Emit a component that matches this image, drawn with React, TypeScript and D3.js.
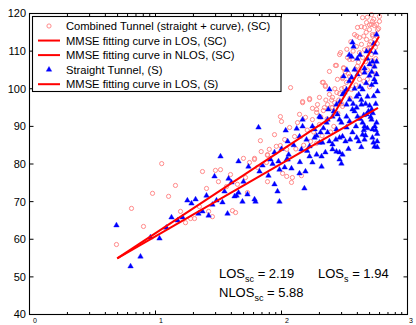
import React from 'react';
import * as d3 from 'd3';

const W = 416;
const H = 325;
const M = { left: 29.5, right: 407.5, top: 13.5, bottom: 314.5 };

const xDomain: [number, number] = [1, 1000];
const yDomain: [number, number] = [40, 120];
const yTicks = [40, 50, 60, 70, 80, 90, 100, 110, 120];
const xMajor = [1, 10, 100, 1000];
const xTickExponents = ['0', '1', '2', '3'];

const legendLabels = [
  'Combined Tunnel (straight + curve), (SC)',
  'MMSE fitting curve in LOS, (SC)',
  'MMSE fitting curve in NLOS, (SC)',
  'Straight Tunnel, (S)',
  'MMSE fitting curve in LOS, (S)',
];

// [distance (m), path loss (dB)]
const combinedSC: [number, number][] = [
  [4.9, 58.6], [6.45, 68.2], [8.03, 63.4], [9.47, 72.2], [11.2, 80.1], [12.7, 71.4], [14.4, 74.3], [15.8, 67.4],
  [17.3, 64.4], [19.0, 65.5], [20.4, 65.5], [22.3, 68.7], [23.6, 78.0], [25.4, 73.5], [26.4, 67.4], [28.3, 66.0],
  [29.9, 78.3], [32.8, 78.5], [31.6, 75.3], [39.4, 77.2], [36.6, 74.0], [44.7, 74.6], [51.8, 76.4], [49.9, 81.5],
  [40.8, 67.6], [43.2, 67.1], [53.7, 72.4], [55.7, 80.4], [61.1, 81.5], [64.5, 79.1], [77.4, 82.3], [76.0, 80.4],
  [77.4, 75.3], [102, 77.5], [110, 76.7], [122, 76.4], [120, 75.1], [144, 76.9],
  [118, 100.3], [98, 92.6], [100, 91.3], [68, 86.2], [147, 96.3], [167, 97.1], [193, 95.8], [215, 101.7],
  [223, 100.9], [240, 98.5], [268, 106.2], [289, 109.1], [311, 105.4], [305, 102.7], [134, 91.0], [127, 87.3],
  [110, 83.9], [176, 91.8], [190, 93.7], [176, 94.8], [215, 94.2], [250, 95.0], [264, 96.3], [91, 84.7],
  [98, 84.9], [77.4, 82.5],
  [527, 117.9], [547, 116.8], [499, 115.7], [456, 116.3], [527, 114.4], [473, 113.1], [273, 106.2], [311, 105.6],
  [394, 111.2], [431, 111.8], [416, 109.6], [482, 110.7], [440, 108.3], [366, 107.8], [408, 107.0], [347, 103.3],
  [328, 101.7], [305, 103.0], [211, 101.7], [223, 100.6], [200, 97.7], [167, 97.4], [147, 96.6], [190, 94.5],
  [219, 95.0], [254, 95.0], [254, 97.7], [305, 95.3], [289, 98.7], [334, 108.3], [473, 117.6], [518, 117.1],
  [518, 119.7], [599, 119.2], [568, 117.1], [294, 109.6],
  [380, 114.4], [416, 113.6], [456, 110.4], [499, 111.8], [547, 113.1], [578, 115.7], [347, 107.8], [387, 105.1],
  [316, 100.3], [360, 99.8], [278, 102.5], [240, 104.6], [232, 95.8], [416, 102.5], [464, 107.2], [518, 109.1],
  [557, 111.0], [599, 117.9], [401, 116.3], [440, 118.9], [139, 93.2], [155, 92.4], [116, 89.7], [88, 87.8],
  [106, 86.5], [80, 83.9], [69, 83.3], [61, 81.2],
  [180, 88.5], [200, 90.5], [230, 92.0], [260, 90.0], [280, 93.5], [300, 96.0], [160, 89.0], [170, 86.0],
  [210, 87.5], [245, 88.5], [190, 85.5], [150, 85.0], [130, 84.0], [225, 97.0], [275, 99.0],
  [420, 104.0], [480, 105.0], [540, 106.0], [560, 104.0], [500, 100.5], [450, 102.0], [390, 101.0], [530, 114.0],
  [560, 108.0], [470, 115.0], [430, 116.5], [510, 112.5],
  [330, 110.5], [355, 112.5], [370, 110.0], [395, 114.0], [450, 114.0], [480, 119.0], [500, 117.0], [540, 118.5],
  [560, 114.5], [575, 112.0], [590, 116.0], [400, 106.0], [440, 104.5], [480, 102.5], [520, 107.5], [500, 111.0],
  [340, 104.0], [360, 102.0], [300, 100.0], [320, 104.5], [265, 100.0], [285, 97.0], [350, 97.5], [250, 97.0],
  [205, 92.5],
];

const straightS: [number, number][] = [
  [4.9, 63.7], [6.34, 52.8], [7.6, 55.4], [9.12, 60.5], [10.76, 60.2], [12.2, 63.1], [13.4, 65.8], [15.0, 65.0],
  [16.4, 65.8], [17.9, 70.3], [19.3, 69.5], [20.8, 70.6], [21.9, 66.8], [23.6, 67.4], [25.4, 71.6], [26.4, 66.3],
  [32.8, 82.0], [45.6, 80.7], [29.4, 76.7], [38.0, 76.1], [40.1, 75.1], [49.9, 75.3], [35.3, 72.7], [45.6, 72.4],
  [44.0, 71.6], [53.7, 71.9], [49.0, 70.0], [34.0, 69.8], [30.5, 70.3], [37.3, 66.8], [28.3, 69.2], [54.7, 79.3],
  [66.9, 78.0], [70.7, 79.6], [78.8, 76.9], [88, 74.6], [93, 72.7], [96.4, 70.0], [61.1, 70.6], [62.2, 70.0],
  [42.4, 71.4], [96.4, 78.5], [106, 79.1], [110, 81.2], [120, 78.8], [139, 77.5], [152, 73.5], [155, 78.0],
  [167, 82.0], [176, 80.4], [208, 79.3], [223, 83.1], [289, 81.2], [299, 80.1], [273, 83.3],
  [65.7, 89.7], [240, 99.8], [311, 103.3], [316, 99.0], [204, 92.4], [232, 91.8], [254, 92.6], [183, 89.2],
  [147, 90.0], [132, 89.4], [108, 88.9], [112, 86.0], [88, 83.1], [114, 82.5], [139, 87.3], [158, 86.5],
  [183, 87.0], [204, 88.4], [232, 88.4], [273, 89.2], [278, 93.2], [299, 91.0], [328, 95.8], [81.8, 81.2],
  [94.7, 80.7], [112, 81.2], [144, 83.9], [167, 84.7], [200, 85.7], [208, 82.0], [254, 83.9], [289, 87.0],
  [322, 86.0], [305, 82.5], [328, 89.7],
  [568, 114.4], [366, 112.3], [373, 111.2], [473, 109.9], [557, 109.6], [568, 107.2], [547, 105.9], [380, 105.1],
  [360, 103.0], [401, 103.8], [456, 105.4], [499, 103.5], [568, 103.8], [557, 101.7], [578, 99.3], [328, 99.8],
  [305, 98.5], [273, 95.8], [347, 97.1], [394, 97.9], [440, 99.8], [482, 97.9], [431, 95.8], [473, 93.2],
  [401, 92.6], [366, 94.5], [328, 92.6], [347, 91.3], [289, 91.8], [456, 90.0], [440, 87.8], [456, 86.5],
  [518, 91.8], [527, 89.2], [527, 87.0], [547, 84.6], [537, 85.7], [366, 88.4], [305, 87.3], [228, 91.0],
  [200, 92.6], [176, 90.0], [147, 91.8], [211, 85.7], [254, 85.2], [289, 83.1], [456, 104.3], [527, 107.2],
  [464, 87.6], [568, 91.0],
  [420, 100.5], [500, 95.5], [540, 98.0], [450, 93.0], [390, 90.0], [520, 101.0], [480, 89.5], [410, 86.0],
  [560, 96.0], [350, 86.5], [430, 84.5], [500, 106.5], [540, 112.0], [400, 108.0], [470, 101.5], [360, 108.5],
  [520, 94.5], [440, 91.0],
  [330, 105.0], [345, 102.0], [380, 100.0], [410, 98.5], [430, 97.0], [465, 96.0], [490, 94.0], [510, 92.5],
  [530, 93.5], [550, 90.0], [575, 88.0], [575, 86.0], [575, 84.5], [560, 89.0], [380, 94.0], [420, 92.0],
  [450, 89.0], [395, 87.0], [340, 84.0], [370, 96.0], [395, 95.0], [520, 104.5], [545, 102.5], [505, 110.0],
  [480, 108.0], [420, 109.0], [345, 109.0], [290, 96.5], [260, 94.0], [235, 94.5], [215, 89.5], [190, 87.5],
  [160, 83.5], [125, 85.0], [100, 84.0], [85, 80.0], [140, 80.5], [190, 82.5], [240, 86.0], [270, 86.5],
];

const fitLosSC: [number, number][] = [[4.97, 54.9], [254, 92.6]];
const fitNlosSC: [number, number][] = [[254, 92.6], [594, 113.9]];
const fitLosS: [number, number][] = [[4.97, 54.9], [583, 94.9]];

const FONT = '"Liberation Sans", Arial, Helvetica, sans-serif';
const CIRCLE = '#ff7f7f';
const BLUE = '#0000ff';
const RED = '#ff0000';

export default function App() {
  const x = d3.scaleLog().domain(xDomain).range([M.left, M.right]);
  const y = d3.scaleLinear().domain(yDomain).range([M.bottom, M.top]);
  const line = d3
    .line<[number, number]>()
    .x((d) => x(d[0]))
    .y((d) => y(d[1]));
  const tri = d3.symbol().type(d3.symbolTriangle).size(13)() as string;

  const minor: number[] = [];
  [1, 10, 100].forEach((dec) => {
    for (let k = 2; k <= 9; k++) minor.push(dec * k);
  });

  const legX = 32.5;
  const legY = 16.5;
  const legW = 248.5;
  const legH = 75;
  const rowY = (i: number) => 26 + i * 14.55;

  return (
    <div style={{ position: 'absolute', left: 0, top: 0 }}>
      <svg width={W} height={H} style={{ display: 'block', background: '#fff' }} fontFamily={FONT}>
        <rect x={0} y={0} width={W} height={H} fill="#fff" />
        <g>
          {combinedSC.map((d, i) => (
            <circle key={'c' + i} cx={x(d[0])} cy={y(d[1])} r={2.1} fill="none" stroke={CIRCLE} strokeWidth={0.9} />
          ))}
        </g>
        <g>
          {straightS.map((d, i) => (
            <path key={'t' + i} d={tri} transform={`translate(${x(d[0])},${y(d[1])})`} fill={BLUE} stroke={BLUE} strokeWidth={0.4} />
          ))}
        </g>
        <path d={line(fitLosSC) as string} fill="none" stroke={RED} strokeWidth={2} />
        <path d={line(fitNlosSC) as string} fill="none" stroke={RED} strokeWidth={2} />
        <path d={line(fitLosS) as string} fill="none" stroke={RED} strokeWidth={2} />

        <rect x={M.left} y={M.top} width={M.right - M.left} height={M.bottom - M.top} fill="none" stroke="#000" strokeWidth={1.1} />
        {yTicks.map((t) => (
          <g key={'y' + t}>
            <line x1={M.left} x2={M.left + 4} y1={y(t)} y2={y(t)} stroke="#000" />
            <line x1={M.right} x2={M.right - 4} y1={y(t)} y2={y(t)} stroke="#000" />
            <text x={M.left - 3.5} y={y(t)} dy="0.36em" textAnchor="end" fontSize={11} fill="#000">
              {t}
            </text>
          </g>
        ))}
        {xMajor.map((t, i) => (
          <g key={'x' + t}>
            <line x1={x(t)} x2={x(t)} y1={M.bottom} y2={M.bottom - 4} stroke="#000" />
            <line x1={x(t)} x2={x(t)} y1={M.top} y2={M.top + 4} stroke="#000" />
            <text x={Math.min(x(t) + 5.5, 411)} y={322.5} textAnchor="middle" fontSize={7} fill="#000">
              {xTickExponents[i]}
            </text>
          </g>
        ))}
        {minor.map((t) => (
          <g key={'m' + t}>
            <line x1={x(t)} x2={x(t)} y1={M.bottom} y2={M.bottom - 2.5} stroke="#000" />
            <line x1={x(t)} x2={x(t)} y1={M.top} y2={M.top + 2.5} stroke="#000" />
          </g>
        ))}

        <rect x={legX} y={legY} width={legW} height={legH} fill="#fff" stroke="#000" strokeWidth={1.1} />
        {legendLabels.map((lab, i) => {
          const cy = rowY(i);
          return (
            <g key={'l' + i}>
              {i === 0 && <circle cx={49} cy={cy} r={2.1} fill="none" stroke={CIRCLE} strokeWidth={0.9} />}
              {i === 3 && <path d={tri} transform={`translate(49,${cy})`} fill={BLUE} stroke={BLUE} strokeWidth={0.4} />}
              {(i === 1 || i === 2 || i === 4) && (
                <line x1={38} x2={60} y1={cy} y2={cy} stroke={RED} strokeWidth={2} />
              )}
              <text x={66} y={cy + 4} fontSize={11.2} fill="#000">
                {lab}
              </text>
            </g>
          );
        })}

        <text x={219} y={278} fontSize={13} fill="#000">
          LOS<tspan dy={4} fontSize={9}>sc</tspan>
          <tspan dy={-4}> = 2.19</tspan>
        </text>
        <text x={318} y={278} fontSize={13} fill="#000">
          LOS<tspan dy={4} fontSize={9}>s</tspan>
          <tspan dy={-4}> = 1.94</tspan>
        </text>
        <text x={219} y={297} fontSize={13} fill="#000">
          NLOS<tspan dy={4} fontSize={9}>sc</tspan>
          <tspan dy={-4}> = 5.88</tspan>
        </text>
      </svg>
    </div>
  );
}
